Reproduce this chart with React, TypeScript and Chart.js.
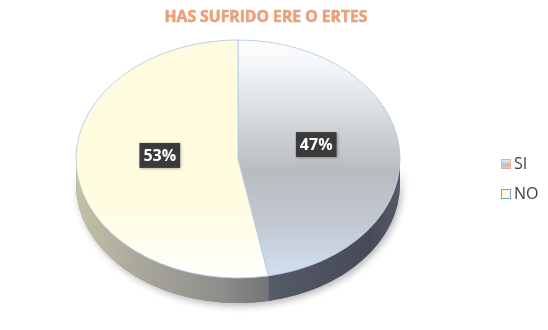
import React, { useEffect, useRef } from "react";
import { Chart, ArcElement, PieController } from "chart.js";

Chart.register(ArcElement, PieController);

const chartTitle = "HAS SUFRIDO ERE O ERTES";
const categories = ["SI", "NO"];
const values = [47, 53];
const valueLabels = ["47%", "53%"];

const CX = 238;
const CY = 159;
const RX = 162;
const RY = 119;
const DEPTH = 25;
const FONT = "'Open Sans', 'DejaVu Sans', sans-serif";

function faceGradient(ctx: CanvasRenderingContext2D, top: number, bottom: number, idx: number) {
  const g = ctx.createLinearGradient(0, top, 0, bottom);
  if (idx === 0) {
    g.addColorStop(0, "#ffffff");
    g.addColorStop(0.15, "#eef1f4");
    g.addColorStop(0.55, "#b8bcc0");
    g.addColorStop(0.78, "#c3c9d2");
    g.addColorStop(1, "#d2e0f4");
  } else {
    g.addColorStop(0, "#fffbe0");
    g.addColorStop(0.65, "#fffbdf");
    g.addColorStop(0.9, "#fffef2");
    g.addColorStop(1, "#ffffff");
  }
  return g;
}

const pie3d = {
  id: "pie3d",
  beforeDatasetsDraw(chart: any) {
    const ctx: CanvasRenderingContext2D = chart.ctx;
    const meta = chart.getDatasetMeta(0);
    const arcs = meta.data as any[];
    if (!arcs.length) return;
    // soft shadow under the pie
    ctx.save();
    ctx.beginPath();
    ctx.ellipse(CX, CY + DEPTH, RX, RY, 0, 0, Math.PI, false);
    ctx.ellipse(CX, CY, RX, RY, 0, Math.PI, 0, true);
    ctx.closePath();
    ctx.shadowColor = "rgba(0,0,0,0.28)";
    ctx.shadowBlur = 7;
    ctx.shadowOffsetX = 2;
    ctx.shadowOffsetY = 3;
    ctx.fillStyle = "#777777";
    ctx.fill();
    ctx.restore();
    // side walls
    arcs.forEach((el: any, i: number) => {
      const a1 = el.startAngle;
      const a2 = el.endAngle;
      for (let k = -1; k <= 1; k++) {
        const lo = Math.max(a1, 2 * Math.PI * k);
        const hi = Math.min(a2, 2 * Math.PI * k + Math.PI);
        if (hi <= lo) continue;
        const g = ctx.createLinearGradient(CX - RX, 0, CX + RX, 0);
        if (i === 1) {
          g.addColorStop(0, "#c4c1a6");
          g.addColorStop(0.2, "#a9a79c");
          g.addColorStop(0.45, "#8e8d8a");
          g.addColorStop(0.62, "#706f72");
          g.addColorStop(1, "#5a5a5c");
        } else {
          g.addColorStop(0, "#5a5e6a");
          g.addColorStop(0.6, "#555a67");
          g.addColorStop(0.9, "#474b57");
          g.addColorStop(1, "#555965");
        }
        ctx.save();
        ctx.beginPath();
        ctx.ellipse(CX, CY, RX, RY, 0, lo, hi, false);
        ctx.ellipse(CX, CY + DEPTH, RX, RY, 0, hi, lo, true);
        ctx.closePath();
        ctx.fillStyle = g;
        ctx.fill();
        ctx.restore();
      }
    });
    const el = arcs[0];
    ctx.save();
    ctx.translate(CX, CY);
    ctx.scale(RX / el.outerRadius, RY / el.outerRadius);
    ctx.translate(-el.x, -el.y);
  },
  afterDatasetsDraw(chart: any) {
    const ctx: CanvasRenderingContext2D = chart.ctx;
    ctx.restore();
    const meta = chart.getDatasetMeta(0);
    const arcs = meta.data as any[];
    // value labels
    arcs.forEach((el: any, i: number) => {
      const mid = (el.startAngle + el.endAngle) / 2;
      const f = 0.485;
      const x = CX + RX * f * Math.cos(mid);
      const y = CY + RY * f * Math.sin(mid) - 9;
      ctx.save();
      ctx.font = `bold 16px ${FONT}`;
      const w = ctx.measureText(valueLabels[i]).width + 8;
      const h = 25;
      ctx.shadowColor = "rgba(0,0,0,0.35)";
      ctx.shadowBlur = 3;
      ctx.shadowOffsetX = 1;
      ctx.shadowOffsetY = 1;
      ctx.fillStyle = "#3b3b3d";
      ctx.fillRect(x - w / 2, y - h / 2, w, h);
      ctx.shadowColor = "transparent";
      ctx.fillStyle = "#ffffff";
      ctx.textAlign = "center";
      ctx.textBaseline = "middle";
      ctx.fillText(valueLabels[i], x, y + 1);
      ctx.restore();
    });
  },
  afterDraw(chart: any) {
    const ctx: CanvasRenderingContext2D = chart.ctx;
    // title
    ctx.save();
    ctx.font = `bold 14px ${FONT}`;
    const tw = ctx.measureText(chartTitle).width;
    const size = 14 * (203 / tw);
    ctx.font = `bold ${size.toFixed(2)}px ${FONT}`;
    ctx.fillStyle = "#e9a17a";
    ctx.strokeStyle = "#e9a17a";
    ctx.lineWidth = 0.6;
    ctx.textAlign = "center";
    ctx.textBaseline = "alphabetic";
    ctx.fillText(chartTitle, 266, 22);
    ctx.strokeText(chartTitle, 266, 22);
    ctx.restore();
    // legend
    const fills = ["#c4c8cc", "#fffbd8"];
    const borders = ["#f0b090", "#7f9fd0"];
    categories.forEach((c, i) => {
      const bx = 501;
      const by = 159 + i * 30;
      ctx.save();
      let fill: any = fills[i];
      if (i === 0) {
        const g = ctx.createLinearGradient(0, by, 0, by + 10);
        g.addColorStop(0, "#f2f3f5");
        g.addColorStop(0.6, "#b8bcc0");
        g.addColorStop(1, "#d0dcee");
        fill = g;
      }
      ctx.fillStyle = fill;
      ctx.fillRect(bx, by, 10, 10);
      ctx.strokeStyle = borders[i];
      ctx.lineWidth = 1;
      ctx.strokeRect(bx + 0.5, by + 0.5, 9, 9);
      ctx.font = `16px ${FONT}`;
      ctx.fillStyle = "#404040";
      ctx.textAlign = "left";
      ctx.textBaseline = "middle";
      ctx.fillText(c, bx + 13, by + 5.5);
      ctx.restore();
    });
  },
};

export default function App() {
  const ref = useRef<HTMLCanvasElement>(null);
  useEffect(() => {
    if (!ref.current) return;
    const chart = new Chart(ref.current, {
      type: "pie",
      data: {
        labels: categories,
        datasets: [
          {
            data: values,
            clip: false as any,
            backgroundColor: (c: any) => {
              const ch = c.chart;
              const area = ch.chartArea;
              if (!area) return c.dataIndex === 0 ? "#c0c4c8" : "#fffbe0";
              const r = Math.min(area.right - area.left, area.bottom - area.top) / 2;
              const cy = (area.top + area.bottom) / 2;
              return faceGradient(ch.ctx, cy - r, cy + r, c.dataIndex);
            },
            borderColor: "#b4c8e4",
            borderWidth: 1,
          },
        ],
      },
      options: {
        responsive: false,
        animation: false,
        layout: { padding: 0 },
        plugins: {
          legend: { display: false },
          title: { display: false },
          tooltip: { enabled: false },
        },
        events: [],
      },
      plugins: [pie3d],
    });
    return () => chart.destroy();
  }, []);
  return (
    <div style={{ position: "fixed", left: 0, top: 0, width: 548, height: 330, background: "#ffffff" }}>
      <canvas ref={ref} width={548} height={330} />
    </div>
  );
}
